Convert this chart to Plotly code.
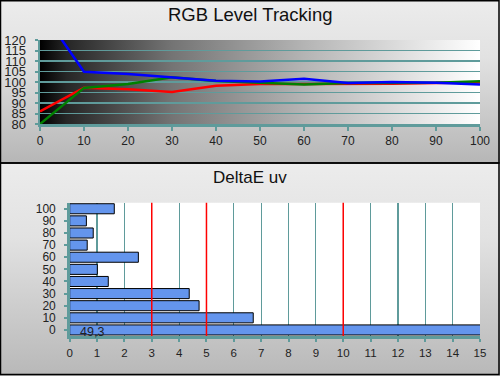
import base64
import plotly.graph_objects as go

# ---- data ----
levels = [0, 10, 20, 30, 40, 50, 60, 70, 80, 90, 100]
red = [86, 97.3, 96.5, 95.2, 98.2, 99, 99, 99, 99.2, 99.5, 99.8]
green = [80, 97.2, 99, 102.2, 100.5, 99.5, 98.8, 99.5, 99.5, 99.6, 100.4]
blue = [135, 104.9, 103.8, 102.2, 100.6, 100.2, 101.6, 99.5, 100, 99.6, 98.8]

de_levels = [0, 10, 20, 30, 40, 50, 60, 70, 80, 90, 100]
deltae = [49.3, 6.71, 4.73, 4.37, 1.41, 1.01, 2.51, 0.64, 0.86, 0.61, 1.63]
limits = [3, 5, 10]

rgb_yticks = [80, 85, 90, 95, 100, 105, 110, 115, 120]
rgb_xticks = [0, 10, 20, 30, 40, 50, 60, 70, 80, 90, 100]
de_xticks = list(range(0, 16))

W, H = 500, 376
TEAL = "#5f9b9b"
FONT = "Liberation Sans, Arial, sans-serif"


def svg_uri(svg):
    return "data:image/svg+xml;base64," + base64.b64encode(svg.encode()).decode()


def vgrad(c1, c2):
    return svg_uri(
        '<svg xmlns="http://www.w3.org/2000/svg" width="100" height="100" viewBox="0 0 100 100" preserveAspectRatio="none">'
        '<defs><linearGradient id="g" x1="0" y1="0" x2="0" y2="1">'
        f'<stop offset="0" stop-color="{c1}"/><stop offset="0.35" stop-color="#e2e2e2"/><stop offset="1" stop-color="{c2}"/>'
        '</linearGradient></defs><rect width="100" height="100" fill="url(#g)"/></svg>')


hgrad = svg_uri(
    '<svg xmlns="http://www.w3.org/2000/svg" width="100" height="100" viewBox="0 0 100 100" preserveAspectRatio="none">'
    '<defs><linearGradient id="g" x1="0" y1="0" x2="1" y2="0">'
    '<stop offset="0" stop-color="#000"/><stop offset="0.06" stop-color="#262626"/>'
    '<stop offset="0.3" stop-color="#747474"/><stop offset="0.6" stop-color="#b4b4b4"/>'
    '<stop offset="1" stop-color="#ffffff"/>'
    '</linearGradient></defs><rect width="100" height="100" fill="url(#g)"/></svg>')

fig = go.Figure()

for vals, col in [(red, "#ff0000"), (green, "#008000"), (blue, "#0000ff")]:
    fig.add_trace(go.Scatter(x=levels, y=vals, mode="lines", line=dict(color=col, width=2.5),
                             xaxis="x", yaxis="y", showlegend=False, hoverinfo="skip"))

fig.add_trace(go.Bar(x=deltae, y=de_levels, orientation="h", width=8.3,
                     marker=dict(color="#6495ed", line=dict(color="#000", width=1)),
                     xaxis="x2", yaxis="y2", showlegend=False, hoverinfo="skip"))

top_split = 1 - 163 / H

shapes = [
    dict(type="rect", xref="x2", yref="y2 domain", x0=0, x1=15, y0=0, y1=1,
         fillcolor="white", line=dict(width=0), layer="below"),
    dict(type="rect", xref="paper", yref="paper", x0=0.001, x1=0.998, y0=top_split, y1=0.998,
         line=dict(color="black", width=1.5), layer="above"),
    dict(type="rect", xref="paper", yref="paper", x0=0.001, x1=0.998, y0=0.004, y1=top_split,
         line=dict(color="black", width=1.5), layer="above"),
]
for v in limits:
    shapes.append(dict(type="line", xref="x2", yref="y2 domain", x0=v, x1=v, y0=0, y1=1,
                       line=dict(color="#ff0000", width=1.5), layer="above"))

images = [
    dict(source=vgrad("#ececec", "#b6b6b6"), xref="paper", yref="paper", x=0, y=1,
         sizex=1, sizey=1 - top_split, sizing="stretch", xanchor="left", yanchor="top", layer="below"),
    dict(source=vgrad("#ececec", "#b8b8b8"), xref="paper", yref="paper", x=0, y=top_split,
         sizex=1, sizey=top_split, sizing="stretch", xanchor="left", yanchor="top", layer="below"),
    dict(source=hgrad, xref="x", yref="y", x=0, y=120, sizex=100, sizey=40,
         sizing="stretch", xanchor="left", yanchor="top", layer="below"),
]

annotations = [
    dict(text="RGB Level Tracking", xref="paper", yref="paper", x=0.5, y=1 - 15 / H,
         showarrow=False, font=dict(size=18.5, color="#111", family=FONT), xanchor="center", yanchor="middle"),
    dict(text="DeltaE uv", xref="paper", yref="paper", x=0.5, y=1 - 177 / H,
         showarrow=False, font=dict(size=17, color="#111", family=FONT), xanchor="center", yanchor="middle"),
    dict(text=f"{deltae[0]:.1f}".replace(".", ","), xref="x2", yref="y2", x=0.82, y=de_levels[0],
         showarrow=False, font=dict(size=12.5, color="#222", family=FONT), yshift=-2),
]

axis_common = dict(showline=True, linecolor=TEAL, ticks="outside", tickcolor=TEAL, automargin=False,
                   tickfont=dict(family=FONT, color="#222"), zeroline=False, fixedrange=True)

fig.update_layout(
    width=W, height=H, margin=dict(l=0, r=0, t=0, b=0, autoexpand=False),
    paper_bgcolor="#d0d0d0", plot_bgcolor="rgba(0,0,0,0)",
    font=dict(family=FONT),
    shapes=shapes, images=images, annotations=annotations,
    bargap=0,
    xaxis=dict(domain=[40 / W, 480 / W], anchor="y", range=[0, 100], tickvals=rgb_xticks,
               showgrid=False, linewidth=2.5, ticklen=4, tickwidth=2, tickfont_size=12,
               ticklabelstandoff=0, **axis_common),
    yaxis=dict(domain=[1 - 124 / H, 1 - 40 / H], anchor="x", range=[80, 120], tickvals=rgb_yticks,
               showgrid=True, gridcolor=TEAL, gridwidth=1.2, linewidth=2.5, ticklen=3, tickwidth=2,
               tickfont_size=13, ticklabelstandoff=6, **axis_common),
    xaxis2=dict(domain=[69.7 / W, 480 / W], anchor="y2", range=[0, 15], tickvals=de_xticks,
                showgrid=True, gridcolor=TEAL, gridwidth=1.2, linewidth=2.5, ticklen=3, tickwidth=2,
                tickfont_size=11.5, ticklabelstandoff=2, **axis_common),
    yaxis2=dict(domain=[1 - 336 / H, 1 - 202.7 / H], anchor="x2", range=[-5, 105], tickvals=de_levels,
                showgrid=False, linewidth=2.5, ticklen=3, tickwidth=2, tickfont_size=12,
                ticklabelstandoff=6, **axis_common),
)

fig.write_html("out.html", config={"displayModeBar": False, "staticPlot": True},
               post_script="document.body.style.margin='0';document.body.style.overflow='hidden';")
